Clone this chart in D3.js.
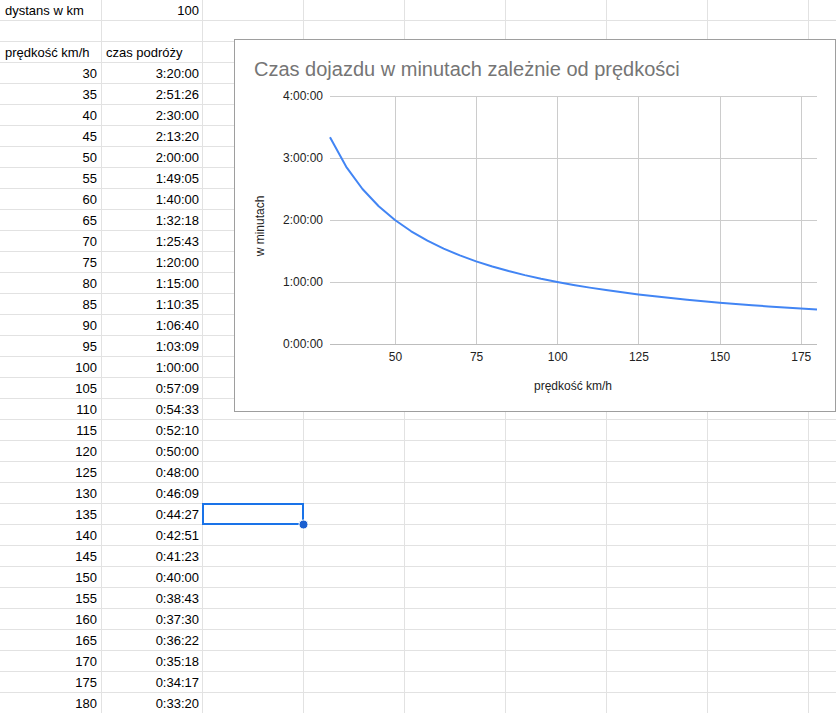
<!DOCTYPE html>
<html><head><meta charset="utf-8">
<script src="https://cdn.jsdelivr.net/npm/d3@7"></script>
<style>
body{margin:0;background:#fff;overflow:hidden}
text{font-family:"Liberation Sans",Arial,sans-serif}
</style>
</head><body>
<svg id="c" width="836" height="713"></svg>
<script>
// ---- data ----
const distanceLabel = "dystans w km";
const distanceValue = "100";
const headerSpeed = "prędkość km/h";
const headerTime = "czas podróży";
const speeds = [30,35,40,45,50,55,60,65,70,75,80,85,90,95,100,105,110,115,120,125,130,135,140,145,150,155,160,165,170,175,180];
const travelTimes = ["3:20:00","2:51:26","2:30:00","2:13:20","2:00:00","1:49:05","1:40:00","1:32:18","1:25:43","1:20:00","1:15:00","1:10:35","1:06:40","1:03:09","1:00:00","0:57:09","0:54:33","0:52:10","0:50:00","0:48:00","0:46:09","0:44:27","0:42:51","0:41:23","0:40:00","0:38:43","0:37:30","0:36:22","0:35:18","0:34:17","0:33:20"];
const chartTitle = "Czas dojazdu w minutach zależnie od prędkości";
const xAxisTitle = "prędkość km/h";
const yAxisTitle = "w minutach";
const xTickValues = [50,75,100,125,150,175];
const yTickLabels = ["0:00:00","1:00:00","2:00:00","3:00:00","4:00:00"];

const toSec = s => { const p = s.split(":").map(Number); return p[0]*3600 + p[1]*60 + p[2]; };
const svg = d3.select("#c");
const W = 836, H = 713;

// ---- spreadsheet grid ----
const colW = 101, rowH = 21;
const nCols = Math.ceil(W/colW), nRows = Math.ceil(H/rowH);
const g = svg.append("g");
g.selectAll("rect.v").data(d3.range(1, nCols+1)).join("rect")
  .attr("x", d => d*colW).attr("y", 0).attr("width", 1).attr("height", H).attr("fill", "#e2e2e2");
g.selectAll("rect.h").data(d3.range(1, nRows+1)).join("rect")
  .attr("x", 0).attr("y", d => d*rowH - 1).attr("width", W).attr("height", 1).attr("fill", "#e2e2e2");

const base = r => r*rowH + 14.8;
function cell(txt, col, row, right){
  g.append("text").attr("x", right ? (col+1)*colW - 4 + (col===1? 1:0) : col*colW + 5)
   .attr("y", base(row)).attr("text-anchor", right ? "end" : "start")
   .attr("font-size", 13).attr("fill", "#000").text(txt);
}
cell(distanceLabel, 0, 0, false);
cell(distanceValue, 1, 0, true);
cell(headerSpeed, 0, 2, false);
cell(headerTime, 1, 2, false);
speeds.forEach((s, i) => { cell(String(s), 0, 3+i, true); cell(travelTimes[i], 1, 3+i, true); });

// selected cell (C, row of 135)
const selRow = 3 + speeds.indexOf(135);
g.append("rect").attr("x", 2*colW + 1).attr("y", selRow*rowH).attr("width", colW - 1).attr("height", rowH - 1)
  .attr("fill", "none").attr("stroke", "#1a73e8").attr("stroke-width", 2);
g.append("circle").attr("cx", 3*colW + 0.5).attr("cy", (selRow+1)*rowH - 0.5).attr("r", 4.5)
  .attr("fill", "#1a5fd0").attr("stroke", "#fff").attr("stroke-width", 1);

// ---- chart ----
const box = {x: 234, y: 39, w: 601, h: 372};
const ch = svg.append("g");
ch.append("rect").attr("x", box.x + 0.5).attr("y", box.y + 0.5).attr("width", box.w).attr("height", box.h)
  .attr("fill", "#fff").attr("stroke", "#9e9e9e").attr("stroke-width", 1);

ch.append("text").attr("x", 254).attr("y", 76).attr("font-size", 20).attr("fill", "#757575").text(chartTitle);

const yTickVals = yTickLabels.map(toSec);
const x = d3.scaleLinear().domain([d3.min(speeds), d3.max(speeds)]).range([330, 817]);
const y = d3.scaleLinear().domain([0, d3.max(yTickVals)]).range([344, 96]);

// gridlines
ch.selectAll("line.vg").data(xTickValues).join("line")
  .attr("x1", d => Math.round(x(d)) + 0.5).attr("x2", d => Math.round(x(d)) + 0.5)
  .attr("y1", y.range()[1]).attr("y2", y.range()[0]).attr("stroke", "#cccccc");
ch.selectAll("line.hg").data(yTickVals).join("line")
  .attr("x1", x.range()[0]).attr("x2", x.range()[1])
  .attr("y1", d => Math.round(y(d)) + 0.5).attr("y2", d => Math.round(y(d)) + 0.5)
  .attr("stroke", d => d === 0 ? "#bdbdbd" : "#cccccc");

// axis labels via d3 axes
const yAxis = d3.axisLeft(y).tickValues(yTickVals).tickFormat((d,i) => yTickLabels[i]).tickSize(0).tickPadding(7);
const ya = ch.append("g").attr("transform", `translate(${x.range()[0]},0)`).call(yAxis);
ya.select(".domain").remove();
ya.selectAll("text").attr("font-size", 12).attr("fill", "#222").attr("font-family", "Liberation Sans, Arial, sans-serif");

const xAxis = d3.axisBottom(x).tickValues(xTickValues).tickSize(0).tickPadding(8);
const xa = ch.append("g").attr("transform", `translate(0,${y.range()[0]})`).call(xAxis);
xa.select(".domain").remove();
xa.selectAll("text").attr("font-size", 12).attr("fill", "#222").attr("font-family", "Liberation Sans, Arial, sans-serif");

ch.append("text").attr("x", 573).attr("y", 390).attr("text-anchor", "middle").attr("font-size", 12).attr("fill", "#222").text(xAxisTitle);
ch.append("text").attr("transform", "translate(264,226) rotate(-90)").attr("text-anchor", "middle")
  .attr("font-size", 12).attr("fill", "#222").text(yAxisTitle);

// line
const pts = speeds.map((s, i) => [s, toSec(travelTimes[i])]);
ch.append("path").datum(pts)
  .attr("d", d3.line().x(d => x(d[0])).y(d => y(d[1])))
  .attr("fill", "none").attr("stroke", "#4285f4").attr("stroke-width", 2).attr("stroke-linejoin", "round");
</script>
</body></html>
